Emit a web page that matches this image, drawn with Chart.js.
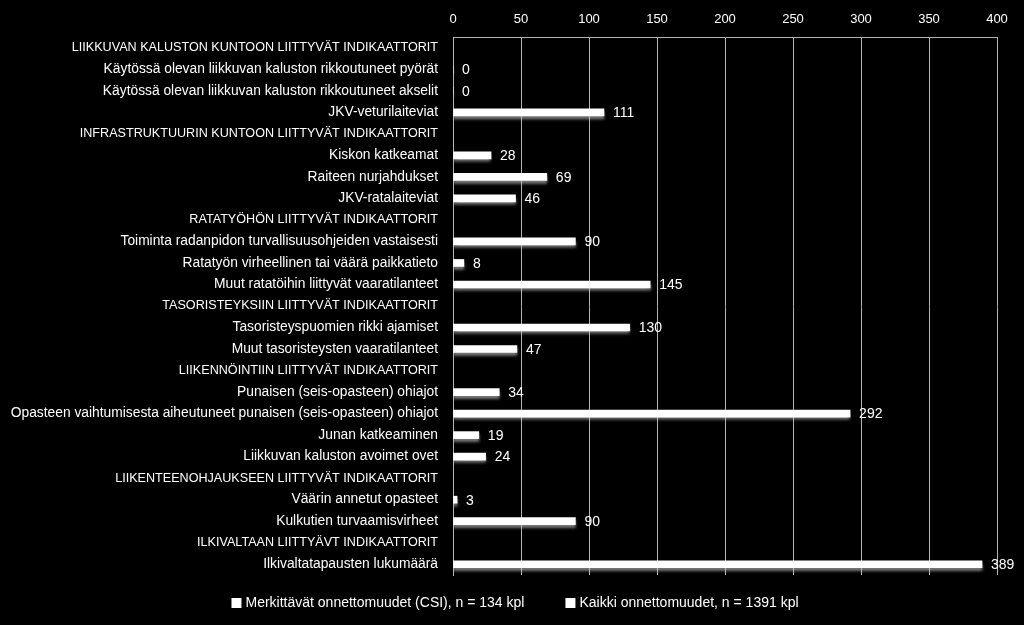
<!DOCTYPE html>
<html>
<head>
<meta charset="utf-8">
<script src="https://cdn.jsdelivr.net/npm/chart.js@4.4.1/dist/chart.umd.min.js"></script>
<style>
  html, body { margin: 0; padding: 0; background: #000; }
  #wrap { width: 1024px; height: 625px; }
</style>
</head>
<body>
<div id="wrap"><canvas id="chart" width="1024" height="625"></canvas></div>
<script>
// categories, top to bottom
const labels = [
    'LIIKKUVAN KALUSTON KUNTOON LIITTYVÄT INDIKAATTORIT',
    'Käytössä olevan liikkuvan kaluston rikkoutuneet pyörät',
    'Käytössä olevan liikkuvan kaluston rikkoutuneet akselit',
    'JKV-veturilaiteviat',
    'INFRASTRUKTUURIN KUNTOON LIITTYVÄT INDIKAATTORIT',
    'Kiskon katkeamat',
    'Raiteen nurjahdukset',
    'JKV-ratalaiteviat',
    'RATATYÖHÖN LIITTYVÄT INDIKAATTORIT',
    'Toiminta radanpidon turvallisuusohjeiden vastaisesti',
    'Ratatyön virheellinen tai väärä paikkatieto',
    'Muut ratatöihin liittyvät vaaratilanteet',
    'TASORISTEYKSIIN LIITTYVÄT INDIKAATTORIT',
    'Tasoristeyspuomien rikki ajamiset',
    'Muut tasoristeysten vaaratilanteet',
    'LIIKENNÖINTIIN LIITTYVÄT INDIKAATTORIT',
    'Punaisen (seis-opasteen) ohiajot',
    'Opasteen vaihtumisesta aiheutuneet punaisen (seis-opasteen) ohiajot',
    'Junan katkeaminen',
    'Liikkuvan kaluston avoimet ovet',
    'LIIKENTEENOHJAUKSEEN LIITTYVÄT INDIKAATTORIT',
    'Väärin annetut opasteet',
    'Kulkutien turvaamisvirheet',
    'ILKIVALTAAN LIITTYÄVT INDIKAATTORIT',
    'Ilkivaltatapausten lukumäärä',
];

// no visible CSI bars in the picture
const csiValues = labels.map(() => null);

const allValues = [
    null, 0, 0, 111,
    null, 28, 69, 46,
    null, 90, 8, 145,
    null, 130, 47,
    null, 34, 292, 19, 24,
    null, 3, 90,
    null, 389,
];

const xTicks = [0, 50, 100, 150, 200, 250, 300, 350, 400];

const seriesNames = [
    'Merkittävät onnettomuudet (CSI), n = 134 kpl',
    'Kaikki onnettomuudet, n = 1391 kpl',
];

const font = "'Liberation Sans', Arial, sans-serif";
const gridColor = '#b4b4b4';

// section headers are the all-caps rows
const isHeader = (i) => labels[i] === labels[i].toUpperCase();

// soft shadow under the bars
const barShadow = {
    id: 'barShadow',
    beforeDatasetsDraw(chart) {
        const ctx = chart.ctx;
        ctx.save();
        ctx.shadowColor = 'rgba(200,200,200,0.6)';
        ctx.shadowOffsetY = 3;
        ctx.shadowBlur = 3;
    },
    afterDatasetsDraw(chart) {
        chart.ctx.restore();
    }
};

// value labels at the bar ends
const valueLabels = {
    id: 'valueLabels',
    afterDatasetsDraw(chart) {
        const ctx = chart.ctx;
        const meta = chart.getDatasetMeta(1);
        ctx.save();
        ctx.fillStyle = '#fff';
        ctx.font = '14px ' + font;
        ctx.textAlign = 'left';
        ctx.textBaseline = 'middle';
        meta.data.forEach((bar, i) => {
            const v = allValues[i];
            if (v === null) return;
            ctx.fillText(String(v), bar.x + 9, bar.y + 1);
        });
        ctx.restore();
    }
};

// legend drawn by hand so the plot keeps its full height
const bottomLegend = {
    id: 'bottomLegend',
    afterDraw(chart) {
        const ctx = chart.ctx;
        ctx.save();
        ctx.font = '14px ' + font;
        ctx.textBaseline = 'middle';
        ctx.fillStyle = '#fff';
        const box = 10, gapBox = 4, gapItem = 41;
        const widths = seriesNames.map(s => ctx.measureText(s).width);
        const total = widths.reduce((a, w) => a + box + gapBox + w, 0) + gapItem;
        let x = 515 - total / 2;
        const y = 603;
        seriesNames.forEach((s, i) => {
            ctx.fillRect(x, y - 5, box, box);
            x += box + gapBox;
            ctx.fillText(s, x, y);
            x += widths[i] + gapItem;
        });
        ctx.restore();
    }
};

Chart.defaults.font.family = font;
Chart.defaults.color = '#fff';

new Chart(document.getElementById('chart'), {
    type: 'bar',
    data: {
        labels: labels,
        datasets: [{
            label: seriesNames[0],
            data: csiValues,
            backgroundColor: '#fff',
            barThickness: 7,
        }, {
            label: seriesNames[1],
            data: allValues,
            backgroundColor: '#fff',
            barThickness: 7,
        }]
    },
    options: {
        indexAxis: 'y',
        responsive: false,
        devicePixelRatio: 1,
        animation: false,
        grouped: false,
        layout: {
            padding: { top: 0, right: 27, bottom: 50, left: 0 }
        },
        scales: {
            x: {
                position: 'top',
                min: 0,
                max: 400,
                afterBuildTicks(scale) {
                    scale.ticks = xTicks.map(v => ({ value: v }));
                },
                afterFit(scale) { scale.height = 37; },
                grid: { color: gridColor, drawTicks: false },
                border: { color: gridColor },
                ticks: { color: '#fff', font: { size: 13 }, padding: 10 }
            },
            y: {
                afterFit(scale) { scale.width = 453; },
                grid: { display: false, drawTicks: false },
                border: { color: gridColor },
                ticks: {
                    color: '#fff',
                    font: (c) => ({ size: isHeader(c.index) ? 12.6 : 13.8 }),
                    padding: 15,
                    autoSkip: false
                }
            }
        },
        plugins: {
            legend: { display: false },
            tooltip: { enabled: false }
        }
    },
    plugins: [barShadow, valueLabels, bottomLegend]
});
</script>
</body>
</html>
